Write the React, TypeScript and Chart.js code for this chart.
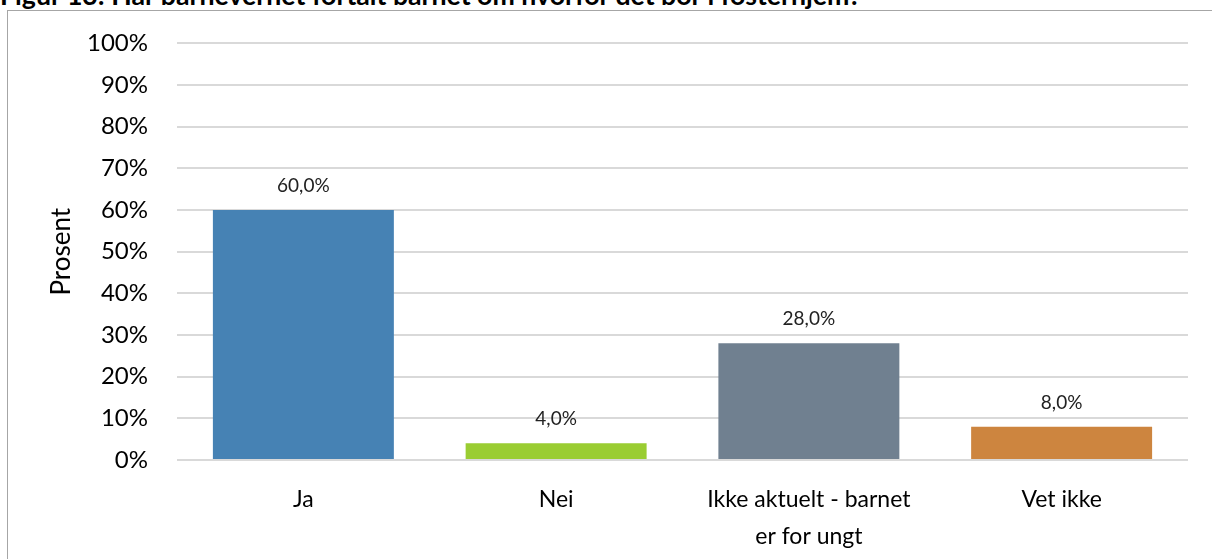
import React, { useEffect, useRef } from "react";
import { Chart, registerables } from "chart.js";

Chart.register(...registerables);

const titleText = "Figur 13: Har barnevernet fortalt barnet om hvorfor det bor i fosterhjem?";
const categories: (string | string[])[] = ["Ja", "Nei", ["Ikke aktuelt - barnet", "er for ungt"], "Vet ikke"];
const values: number[] = [60, 4, 28, 8];
const barColors: string[] = ["#4682B4", "#9ACD32", "#708090", "#CD853F"];
const yTickMax = 100;
const yTickStep = 10;
const yAxisTitle = "Prosent";

const fmt = (v: number) => v.toFixed(1).replace(".", ",") + "%";

const dataLabelPlugin = {
  id: "dataLabels",
  afterDatasetsDraw(chart: any) {
    const ctx = chart.ctx;
    const meta = chart.getDatasetMeta(0);
    ctx.save();
    ctx.font = "19px Lato";
    ctx.fillStyle = "#222";
    ctx.textAlign = "center";
    ctx.textBaseline = "middle";
    meta.data.forEach((bar: any, i: number) => {
      ctx.fillText(fmt(values[i]), bar.x, bar.y - 24);
    });
    ctx.restore();
  },
};

export default function App() {
  const ref = useRef<HTMLCanvasElement | null>(null);
  useEffect(() => {
    if (!ref.current) return;
    const chart = new Chart(ref.current, {
      type: "bar",
      data: {
        labels: categories,
        datasets: [
          {
            data: values,
            backgroundColor: barColors,
            barPercentage: 0.716,
            categoryPercentage: 1,
          },
        ],
      },
      options: {
        animation: false,
        responsive: false,
        maintainAspectRatio: false,
        layout: { padding: { left: 46, right: 24, top: 42, bottom: 0 } },
        plugins: { legend: { display: false }, tooltip: { enabled: false }, title: { display: false } },
        scales: {
          x: {
            grid: { display: false },
            border: { display: false },
            ticks: {
              color: "#000",
              font: { family: "Lato", size: 23, lineHeight: 1.62 },
              padding: 13,
              maxRotation: 0,
              autoSkip: false,
            },
            afterFit: (s: any) => {
              s.height = 99;
            },
          },
          y: {
            min: 0,
            max: yTickMax,
            grid: { color: "#d9d9d9", lineWidth: 2, drawTicks: false },
            border: { display: false },
            ticks: {
              stepSize: yTickStep,
              color: "#000",
              font: { family: "Lato", size: 24 },
              padding: 29,
              callback: (v: any) => v + "%",
            },
            title: {
              display: true,
              text: yAxisTitle,
              color: "#000",
              font: { family: "Lato", size: 26, lineHeight: 1.2 },
              padding: 0,
            },
            afterFit: (s: any) => {
              s.width = 131;
            },
          },
        },
      },
      plugins: [dataLabelPlugin],
    });
    return () => chart.destroy();
  }, []);

  return (
    <div style={{ position: "fixed", left: 0, top: 0, width: 1212, height: 559, overflow: "hidden", background: "#fff" }}>
      <div
        style={{
          position: "absolute",
          left: 7,
          top: 10,
          width: 1300,
          height: 700,
          border: "1.5px solid #a6a6a6",
          boxSizing: "border-box",
        }}
      />
      <div
        style={{
          position: "absolute",
          left: 0,
          top: -18,
          height: 27,
          overflow: "hidden",
          whiteSpace: "nowrap",
          fontFamily: "Lato",
          fontWeight: "bold",
          fontSize: 26.7,
          lineHeight: "27px",
          color: "#000",
        }}
      >
        {titleText}
      </div>
      <canvas ref={ref} width={1212} height={559} style={{ position: "absolute", left: 0, top: 0, width: 1212, height: 559 }} />
    </div>
  );
}
